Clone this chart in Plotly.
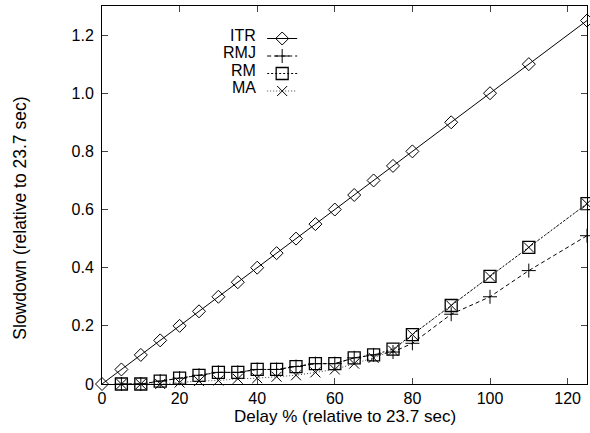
import plotly.graph_objects as go

# ---- data ----
itr_x = [0, 5, 10, 15, 20, 25, 30, 35, 40, 45, 50, 55, 60, 65, 70, 75, 80, 90, 100, 110, 125]
itr_y = [0, 0.05, 0.10, 0.15, 0.20, 0.25, 0.30, 0.35, 0.40, 0.45, 0.50, 0.55, 0.60, 0.65, 0.70,
         0.75, 0.80, 0.90, 1.00, 1.10, 1.25]

other_x = [5, 10, 15, 20, 25, 30, 35, 40, 45, 50, 55, 60, 65, 70, 75, 80, 90, 100, 110, 125]
rmj_y = [0, 0, 0.01, 0.02, 0.03, 0.04, 0.04, 0.05, 0.05, 0.06, 0.07, 0.07, 0.09, 0.10, 0.11,
         0.14, 0.24, 0.30, 0.39, 0.51]
rm_y = [0, 0, 0.01, 0.02, 0.03, 0.04, 0.04, 0.05, 0.05, 0.06, 0.07, 0.07, 0.09, 0.10, 0.12,
        0.17, 0.27, 0.37, 0.47, 0.62]
ma_y = [0, 0, 0, 0.005, 0.01, 0.012, 0.018, 0.02, 0.025, 0.03, 0.04, 0.05, 0.07, 0.09, 0.115,
        0.17, 0.27, 0.37, 0.47, 0.62]

series_names = ["ITR", "RMJ", "RM", "MA"]
x_ticks = [0, 20, 40, 60, 80, 100, 120]
y_ticks = [0, 0.2, 0.4, 0.6, 0.8, 1.0, 1.2]
y_tick_text = ["0", "0.2", "0.4", "0.6", "0.8", "1.0", "1.2"]
x_title = "Delay % (relative to 23.7 sec)"
y_title = "Slowdown (relative to 23.7 sec)"

FONT = "Liberation Sans, Arial, Helvetica, sans-serif"

# plot-area geometry in pixels (used only for legend/label placement)
PL, PR, PT, PB = 101.5, 587.5, 6, 384
def px2paper_x(px):
    return (px - PL) / (PR - PL)
def px2paper_y(py):
    return (PB - py) / (PB - PT)

legend_ids = ["legend", "legend2", "legend3", "legend4"]
styles = [
    dict(line=dict(color="black", width=1),
         marker=dict(symbol="diamond-open", size=10, color="black", line=dict(width=1, color="black"))),
    dict(line=dict(color="black", width=1, dash="4px,3px"),
         marker=dict(symbol="cross-thin-open", size=10, color="black", line=dict(width=1, color="black"))),
    dict(line=dict(color="black", width=1, dash="2px,2px"),
         marker=dict(symbol="square-open", size=12, color="black", line=dict(width=1.3, color="black"))),
    dict(line=dict(color="#444", width=1, dash="1px,2px"),
         marker=dict(symbol="x-thin-open", size=10, color="black", line=dict(width=1, color="black"))),
]
xs = [itr_x, other_x, other_x, other_x]
ys = [itr_y, rmj_y, rm_y, ma_y]

fig = go.Figure()
for name, x, y, st, lg in zip(series_names, xs, ys, styles, legend_ids):
    fig.add_trace(go.Scatter(x=x, y=y, name=name, mode="lines+markers", legend=lg,
                             cliponaxis=False, **st))

# legend labels (gnuplot style: text to the left of the sample)
label_y_px = [35, 52.5, 70, 87.5]
legend_layout = {}
for name, ypx, lg in zip(series_names, label_y_px, legend_ids):
    fig.add_annotation(text=name, xref="paper", yref="paper",
                       x=px2paper_x(258), y=px2paper_y(ypx),
                       xanchor="right", yanchor="middle", showarrow=False,
                       font=dict(family=FONT, size=16, color="black"))
    legend_layout[lg] = dict(x=px2paper_x(262), y=px2paper_y(ypx - 11),
                             xanchor="left", yanchor="top", bgcolor="rgba(0,0,0,0)",
                             font=dict(size=12, color="rgba(0,0,0,0)"), itemwidth=30)

# axis titles
fig.add_annotation(text=x_title, xref="paper", yref="paper",
                   x=px2paper_x(345), y=px2paper_y(416), xanchor="center", yanchor="middle",
                   showarrow=False, font=dict(family=FONT, size=17, color="black"))
fig.add_annotation(text=y_title, xref="paper", yref="paper", textangle=-90,
                   x=px2paper_x(19), y=px2paper_y(218), xanchor="center", yanchor="middle",
                   showarrow=False, font=dict(family=FONT, size=17.5, color="black"))

fig.update_layout(
    width=590, height=433,
    margin=dict(l=101.5, r=2.5, t=6, b=49),
    paper_bgcolor="white", plot_bgcolor="white",
    font=dict(family=FONT, size=16, color="black"),
    showlegend=True,
    xaxis=dict(range=[0, 125], tickvals=x_ticks, ticks="inside", ticklen=6,
               showline=True, linecolor="black", linewidth=1, mirror="ticks",
               showgrid=False, zeroline=False, ticklabelstandoff=0),
    yaxis=dict(range=[0, 1.3], tickvals=y_ticks, ticktext=y_tick_text, ticks="inside",
               ticklen=6, showline=True, linecolor="black", linewidth=1, mirror="ticks",
               showgrid=False, zeroline=False, ticklabelstandoff=4),
    **legend_layout,
)

fig.write_html("out.html", config={"displayModeBar": False},
               post_script="document.body.style.margin='0';")
